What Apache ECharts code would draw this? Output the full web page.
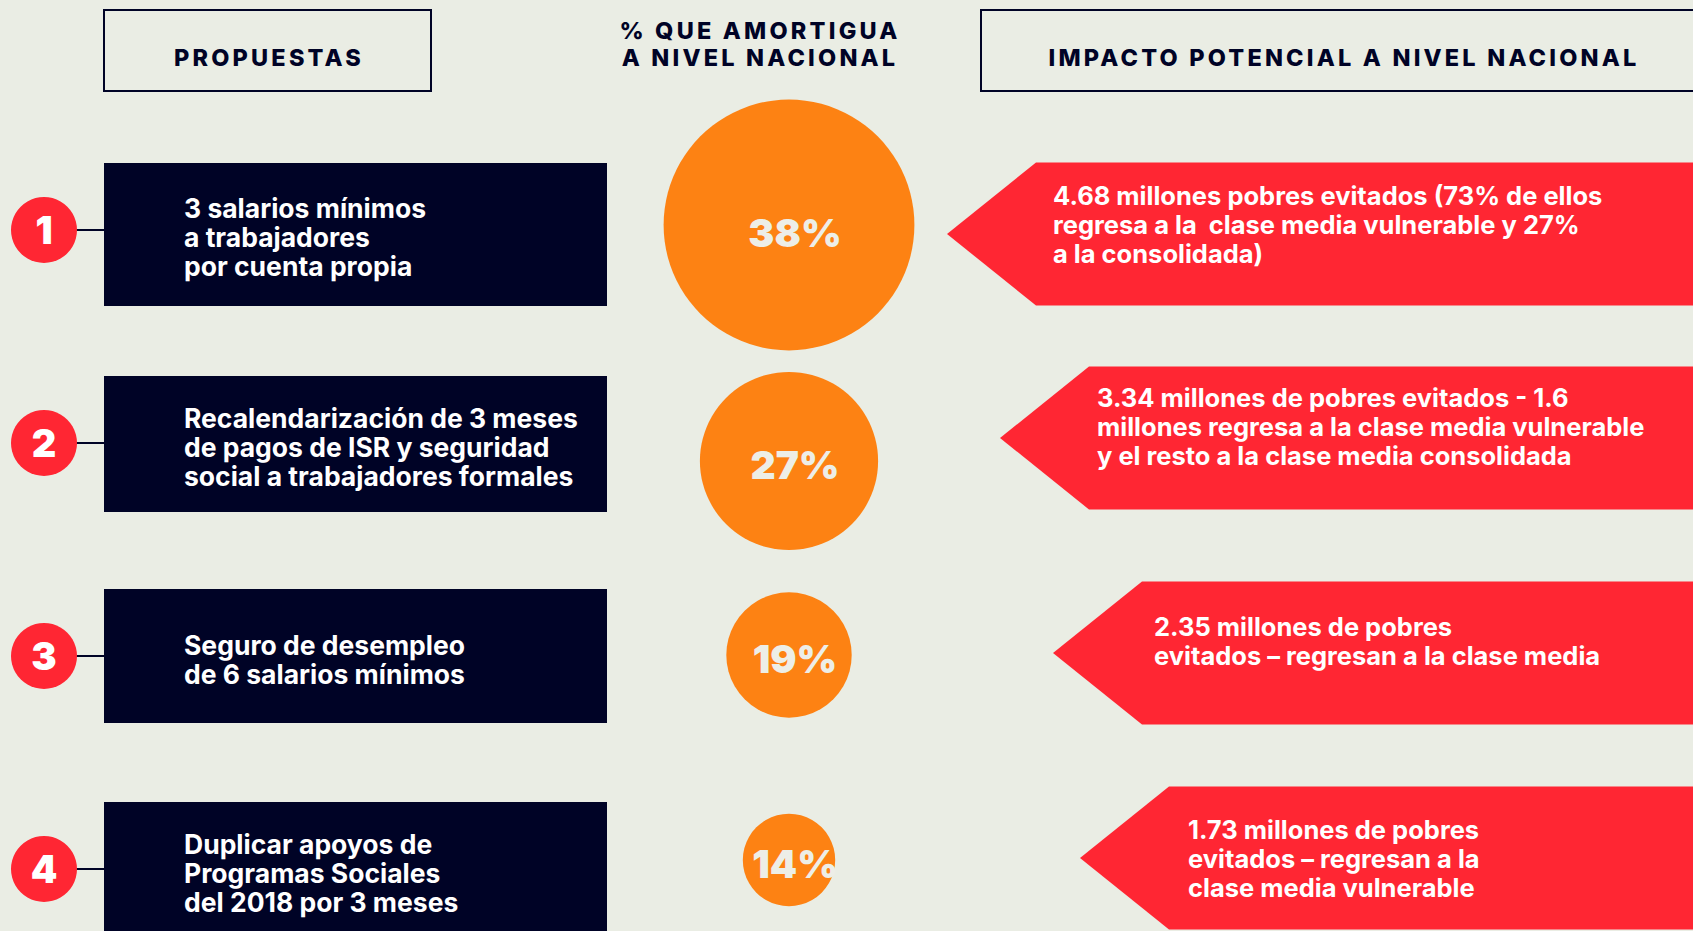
<!DOCTYPE html>
<html><head><meta charset="utf-8">
<script src="https://cdn.jsdelivr.net/npm/echarts@6/dist/echarts.min.js"></script>
<style>
html,body{margin:0;padding:0;background:#eaede4;overflow:hidden}
#c{width:1693px;height:931px}
#c svg text[style*="23.5px"], #c svg text[font-size="23.5"]{letter-spacing:3.2px}
</style>
</head><body><div id="c"></div>
<script>
// ---- data ----
const numeros = ['1', '2', '3', '4'];
const propuestas = [
  '3 salarios mínimos\na trabajadores\npor cuenta propia',
  'Recalendarización de 3 meses\nde pagos de ISR y seguridad\nsocial a trabajadores formales',
  'Seguro de desempleo\nde 6 salarios mínimos',
  'Duplicar apoyos de\nProgramas Sociales\ndel 2018 por 3 meses'
];
const amortigua = [38, 27, 19, 14];
const impacto = [
  '4.68 millones pobres evitados (73% de ellos\nregresa a la  clase media vulnerable y 27%\na la consolidada)',
  '3.34 millones de pobres evitados - 1.6\nmillones regresa a la clase media vulnerable\ny el resto a la clase media consolidada',
  '2.35 millones de pobres\nevitados – regresan a la clase media',
  '1.73 millones de pobres\nevitados – regresan a la\nclase media vulnerable'
];
const headerPropuestas = 'PROPUESTAS';
const headerAmortigua = '% QUE AMORTIGUA\nA NIVEL NACIONAL';
const headerImpacto = 'IMPACTO POTENCIAL A NIVEL NACIONAL';

// ---- layout / style ----
const C = { bg: '#eaede4', navy: '#000326', red: '#ff2633', orange: '#fd8213', pct: '#edeee7', white: '#ffffff' };
const FONT = 'Inter, "Open Sans", sans-serif';
const L = {
  numX: 44, numSize: 66,
  lineX0: 76, boxL: 104, boxR: 607, boxTop: -67, boxH: [143, 136, 134, 140],
  boxTextX: 184, boxTextDy: [7, 4, 3, 4],
  circleX: 789, circleK: 6.6, circleDy: [-5, 18, -1, -9], pctDx: 6, pctDy: [7, 3, 3, 3],
  arrowTip: [947, 1000, 1053, 1080], arrowDy: [4, -5, -3, -11], arrowHalf: 71.5, arrowNeck: 89,
  arrowTextDx: [17, 8, 12, 19], arrowTextDy: [-6, -17, -15, -11], rightEdge: 1710
};
const BOX_FONT = '700 26.5px ' + FONT;
const ARROW_FONT = '700 25.5px ' + FONT;

const rows = propuestas.map((_, i) => i);

function renderBox(params, api) {
  const i = api.value(1);
  const y = api.coord([0, i])[1];
  const xl = api.coord([L.boxL, i])[0];
  const xr = api.coord([L.boxR, i])[0];
  const x0 = api.coord([L.lineX0, i])[0];
  const tx = api.coord([L.boxTextX, i])[0];
  return {
    type: 'group',
    children: [
      { type: 'line', shape: { x1: x0, y1: y, x2: xl, y2: y }, style: { stroke: C.navy, lineWidth: 2 } },
      { type: 'rect', shape: { x: xl, y: y + L.boxTop, width: xr - xl, height: L.boxH[i] }, style: { fill: C.navy } },
      { type: 'text', x: tx, y: y + L.boxTextDy[i], style: {
          text: propuestas[i], fill: C.white, font: BOX_FONT, lineHeight: 29,
          align: 'left', verticalAlign: 'middle' } }
    ]
  };
}

function renderArrow(params, api) {
  const i = api.value(1);
  const y = api.coord([0, i])[1] + L.arrowDy[i];
  const tip = api.coord([L.arrowTip[i], i])[0];
  const neck = tip + L.arrowNeck;
  const re = api.coord([L.rightEdge, i])[0];
  const h = L.arrowHalf;
  return {
    type: 'group',
    children: [
      { type: 'polygon', shape: { points: [[tip, y], [neck, y - h], [re, y - h], [re, y + h], [neck, y + h]] }, style: { fill: C.red } },
      { type: 'text', x: neck + L.arrowTextDx[i], y: api.coord([0, i])[1] + L.arrowTextDy[i], style: {
          text: impacto[i], fill: C.white, font: ARROW_FONT, lineHeight: 29,
          align: 'left', verticalAlign: 'middle' } }
    ]
  };
}

const chart = echarts.init(document.getElementById('c'), null, { renderer: 'svg' });
chart.setOption({
  backgroundColor: C.bg,
  animation: false,
  grid: { left: 0, right: 0, top: 230, bottom: 62 },
  xAxis: { type: 'value', min: 0, max: 1693, show: false },
  yAxis: { type: 'value', min: 0, max: 3, inverse: true, show: false },
  graphic: [
    { type: 'rect', shape: { x: 104, y: 10, width: 327, height: 81 }, style: { fill: 'none', stroke: C.navy, lineWidth: 2 } },
    { type: 'rect', shape: { x: 981, y: 10, width: 760, height: 81 }, style: { fill: 'none', stroke: C.navy, lineWidth: 2 } },
    { type: 'text', x: 269, y: 57, style: { text: headerPropuestas, fill: C.navy, font: '800 23.5px ' + FONT, align: 'center', verticalAlign: 'middle' } },
    { type: 'text', x: 760, y: 44, style: { text: headerAmortigua, fill: C.navy, font: '800 23.5px ' + FONT, lineHeight: 27, align: 'center', verticalAlign: 'middle' } },
    { type: 'text', x: 1344, y: 57, style: { text: headerImpacto, fill: C.navy, font: '800 23.5px ' + FONT, align: 'center', verticalAlign: 'middle' } }
  ],
  series: [
    { type: 'custom', renderItem: renderBox, clip: false, data: rows.map(i => [0, i]), z: 2 },
    { type: 'custom', renderItem: renderArrow, clip: false, data: rows.map(i => [0, i]), z: 2 },
    {
      type: 'scatter', clip: false, z: 3,
      data: rows.map(i => ({ value: [L.numX, i, numeros[i]] })),
      symbol: 'circle', symbolSize: L.numSize,
      itemStyle: { color: C.red, opacity: 1 },
      label: { show: true, position: 'inside', formatter: p => p.value[2], color: C.white,
        fontFamily: FONT, fontWeight: 900, fontSize: 38 },
      silent: true
    },
    {
      type: 'scatter', clip: false, z: 3,
      data: rows.map(i => ({ value: [L.circleX, i, amortigua[i]], symbolOffset: [0, L.circleDy[i]],
        label: { offset: [L.pctDx, L.pctDy[i]] } })),
      symbol: 'circle', symbolSize: v => v[2] * L.circleK,
      itemStyle: { color: C.orange, opacity: 1 },
      label: { show: true, position: 'inside', formatter: p => p.value[2] + '%', color: C.pct,
        fontFamily: FONT, fontWeight: 900, fontSize: 39 },
      silent: true
    }
  ]
});
</script>
</body></html>
